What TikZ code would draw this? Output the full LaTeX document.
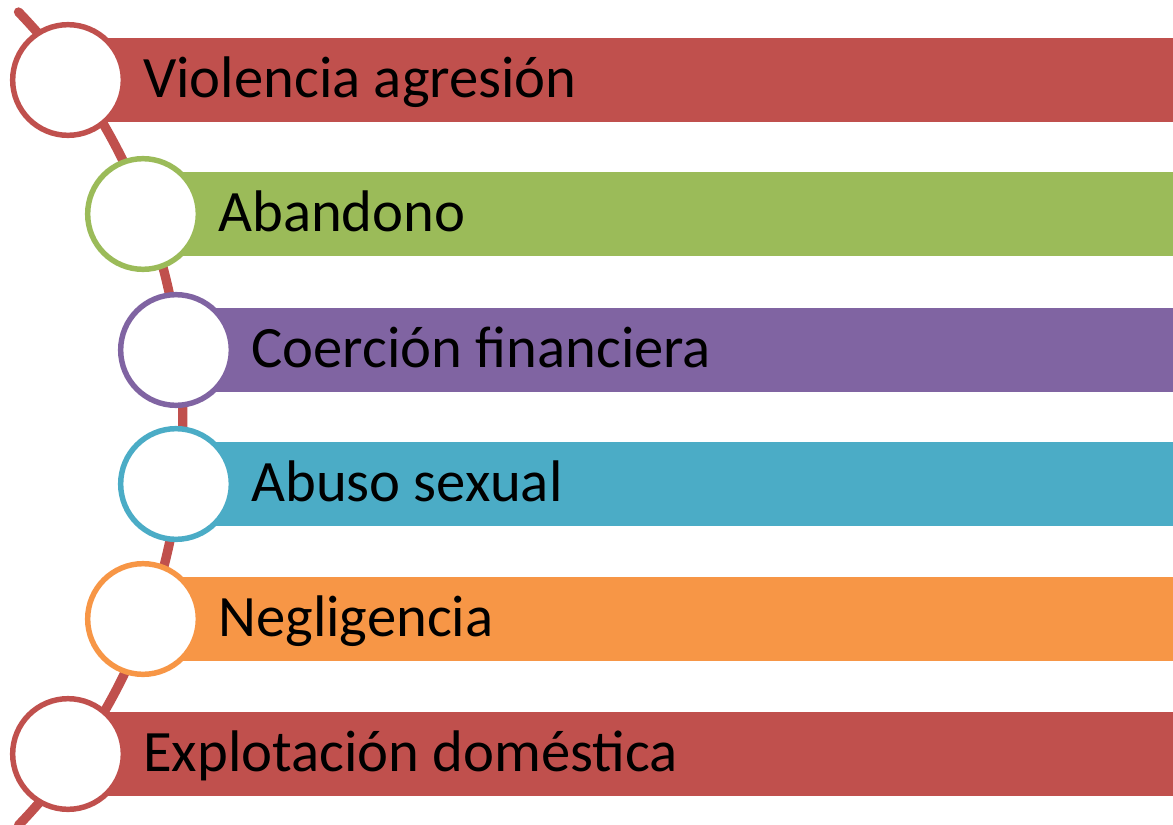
\documentclass[tikz,border=0pt]{standalone}
\usepackage{fontspec}
\setmainfont{Carlito}
\definecolor{cred}{HTML}{C0504D}
\definecolor{cgreen}{HTML}{9BBB59}
\definecolor{cpurple}{HTML}{8064A2}
\definecolor{ccyan}{HTML}{4BACC6}
\definecolor{corange}{HTML}{F79646}
\tikzset{
  bar/.style={rectangle, fill=#1, draw=none, inner sep=0pt, minimum height=63pt, anchor=west},
  ring/.style={circle, draw=#1, fill=white, line width=4.1pt, minimum size=83pt, inner sep=0pt},
  lbl/.style={anchor=base west, inner sep=0pt, font=\fontsize{44}{50}\selectfont, text=black}
}
\begin{document}
\begin{tikzpicture}[x=0.75pt,y=-0.75pt]
\useasboundingbox (0,0) rectangle (1173,824);
\coordinate (arcstart) at (18.5,12);
\draw[cred, line width=7pt, line cap=round] (arcstart) arc[start angle=44, end angle=-44, radius=439pt];
\foreach \i/\cx/\cy/\col/\txt in {1/68/80/cred/Violencia agresión,2/143/214/cgreen/Abandono,3/176/350/cpurple/Coerción financiera,4/176/484/ccyan/Abuso sexual,5/143/619/corange/Negligencia,6/68/754/cred/Explotación doméstica}{
  \node[bar=\col, minimum width={(1180-\cx)*0.75pt}] (bar\i) at (\cx,\cy) {};
  \node[ring=\col] (ring\i) at (\cx,\cy) {};
  \node[lbl] (lbl\i) at (\cx+75,\cy+17) {\txt};
}
\end{tikzpicture}
\end{document}
